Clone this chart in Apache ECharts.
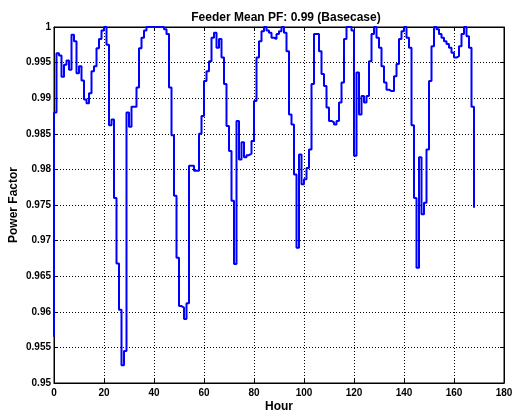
<!DOCTYPE html>
<html>
<head>
<meta charset="utf-8">
<script src="https://cdn.jsdelivr.net/npm/echarts@6/dist/echarts.min.js"></script>
<style>
  html, body { margin: 0; padding: 0; background: #fff; }
  #chart { width: 512px; height: 416px; }
</style>
</head>
<body>
<div id="chart"></div>
<script>
// Feeder power factor over one week (hourly), base case.
const titleText = 'Feeder Mean PF: 0.99 (Basecase)';
const xName = 'Hour';
const yName = 'Power Factor';

// PF at the very start of the run (hour 0)
const startPF = 0.9565;

// Hourly PF, value held over hour (h-1, h] for h = 1..168
const hourlyPF = [
  0.988, 0.9963, 0.996, 0.993, 0.9947, 0.9953, 0.994, 0.9989, 0.998, 0.9935,
  0.9945, 0.9925, 0.9898, 0.9893, 0.9907, 0.9938, 0.9945, 0.997, 0.9983, 0.9995,
  1.0, 0.9975, 0.9862, 0.987, 0.976, 0.9668, 0.9603, 0.9525, 0.9545, 0.988,
  0.986, 0.9888, 0.9888, 0.9915, 0.997, 0.9985, 0.9995, 1.0, 1.0, 1.0,
  1.0, 1.0, 1.0, 1.0, 0.9997, 0.999, 0.9915, 0.9848, 0.9763, 0.9676,
  0.9608, 0.9606, 0.959, 0.9612, 0.9805, 0.9805, 0.9798, 0.9798, 0.985, 0.9875,
  0.9924, 0.9938, 0.9952, 0.9985, 0.9992, 0.9971, 0.9983, 0.9957, 0.992, 0.9861,
  0.9826, 0.9756, 0.9667, 0.9868, 0.9814, 0.9838, 0.9817, 0.982, 0.9822, 0.984,
  0.9896, 0.9957, 0.998, 0.9994, 1.0, 0.9995, 0.9992, 0.9985, 0.9983, 0.999,
  0.9994, 1.0, 0.9992, 0.9966, 0.9877, 0.9863, 0.9793, 0.969, 0.9821, 0.9779,
  0.9786, 0.9802, 0.9828, 0.992, 0.999, 0.999, 0.9966, 0.9934, 0.9917, 0.9887,
  0.9868, 0.9866, 0.9863, 0.9868, 0.9894, 0.9922, 0.9983, 1.0, 1.0, 0.9995,
  0.9819, 0.9936, 0.9877, 0.9903, 0.9894, 0.9903, 0.9952, 0.999, 1.0, 0.9985,
  0.9971, 0.9945, 0.9922, 0.9912, 0.991, 0.991, 0.9931, 0.9948, 0.9983, 0.9994,
  1.0, 0.9985, 0.9971, 0.9862, 0.976, 0.9662, 0.9817, 0.9737, 0.9753, 0.9828,
  0.9924, 0.9973, 1.0, 0.9997, 0.999, 0.9985, 0.998, 0.9976, 0.9971, 0.9964,
  0.9957, 0.9959, 0.9973, 0.999, 1.0, 0.9987, 0.9971, 0.9888
];

// PF at the final sample (end of hour 168)
const endPF = 0.9746;

// Axis ranges and tick spacing
const xTicks = [0, 20, 40, 60, 80, 100, 120, 140, 160, 180];
const yTicks = [0.95, 0.955, 0.96, 0.965, 0.97, 0.975, 0.98, 0.985, 0.99, 0.995, 1];

// Build [hour, pf] pairs for a stairs trace
const points = [[0, startPF]];
hourlyPF.forEach((v, i) => points.push([i + 1, v]));
points.push([hourlyPF.length, endPF]);

const FONT = '"Liberation Sans", Arial, Helvetica, sans-serif';
const gridDots = { color: '#000', width: 1, type: [1, 2] };

const chart = echarts.init(document.getElementById('chart'), null, { renderer: 'canvas' });
chart.setOption({
  animation: false,
  backgroundColor: '#fff',
  title: {
    text: titleText,
    left: 281, textAlign: 'center',
    top: 7,
    textStyle: { fontFamily: FONT, fontSize: 12, fontWeight: 'bold', color: '#000' }
  },
  grid: {
    left: 54, right: 8, top: 27, bottom: 33,
    outerBoundsMode: 'none', containLabel: false,
    show: true, borderColor: '#000', borderWidth: 1, backgroundColor: 'transparent'
  },
  xAxis: [{
    type: 'value',
    min: xTicks[0], max: xTicks[xTicks.length - 1], interval: xTicks[1] - xTicks[0],
    name: xName, nameLocation: 'middle', nameGap: 18, nameMoveOverlap: false,
    nameTextStyle: { fontFamily: FONT, fontSize: 12, fontWeight: 'bold', color: '#000' },
    axisLine: { show: true, onZero: false, lineStyle: { color: '#000', width: 1 } },
    axisTick: { show: true, inside: true, length: 4, lineStyle: { color: '#000' } },
    axisLabel: { margin: 5, fontFamily: FONT, fontSize: 10, fontWeight: 'bold', color: '#000' },
    splitLine: { show: true, lineStyle: gridDots }
  }, {
    type: 'value', position: 'top',
    min: xTicks[0], max: xTicks[xTicks.length - 1], interval: xTicks[1] - xTicks[0],
    axisLine: { show: true, onZero: false, lineStyle: { color: '#000', width: 1 } },
    axisTick: { show: true, inside: true, length: 4, lineStyle: { color: '#000' } },
    axisLabel: { show: false }, splitLine: { show: false }
  }],
  yAxis: [{
    type: 'value',
    min: yTicks[0], max: yTicks[yTicks.length - 1], interval: 0.005,
    name: yName, nameLocation: 'middle', nameGap: 34, nameMoveOverlap: false,
    nameTextStyle: { fontFamily: FONT, fontSize: 12, fontWeight: 'bold', color: '#000' },
    axisLine: { show: true, onZero: false, lineStyle: { color: '#000', width: 1 } },
    axisTick: { show: true, inside: true, length: 4, lineStyle: { color: '#000' } },
    axisLabel: {
      margin: 3, fontFamily: FONT, fontSize: 10, fontWeight: 'bold', color: '#000',
      formatter: v => String(+v.toFixed(3))
    },
    splitLine: { show: true, lineStyle: gridDots }
  }, {
    type: 'value', position: 'right',
    min: yTicks[0], max: yTicks[yTicks.length - 1], interval: 0.005,
    axisLine: { show: true, onZero: false, lineStyle: { color: '#000', width: 1 } },
    axisTick: { show: true, inside: true, length: 4, lineStyle: { color: '#000' } },
    axisLabel: { show: false }, splitLine: { show: false }
  }],
  series: [{
    type: 'line',
    xAxisIndex: 0, yAxisIndex: 0,
    data: points,
    step: 'start',
    showSymbol: false,
    clip: false,
    lineStyle: { color: '#0000ff', width: 2 }
  }]
});
</script>
</body>
</html>
